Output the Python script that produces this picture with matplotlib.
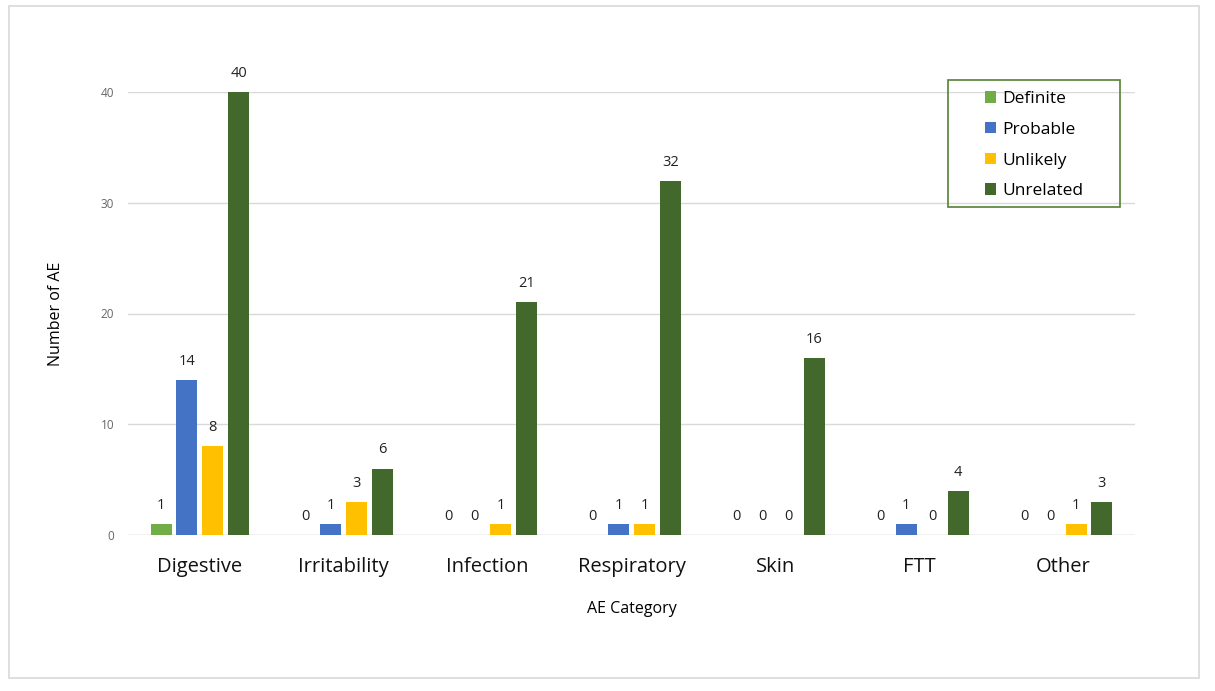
import matplotlib.pyplot as plt
import numpy as np
from matplotlib.patches import Rectangle

plt.rcParams['font.family'] = ['Open Sans', 'DejaVu Sans']

categories = ['Digestive', 'Irritability', 'Infection', 'Respiratory', 'Skin', 'FTT', 'Other']
series_names = ['Definite', 'Probable', 'Unlikely', 'Unrelated']
definite = [1, 0, 0, 0, 0, 0, 0]
probable = [14, 1, 0, 1, 0, 1, 0]
unlikely = [8, 3, 1, 1, 0, 0, 1]
unrelated = [40, 6, 21, 32, 16, 4, 3]
colors = ['#70AD47', '#4472C4', '#FFC000', '#43682B']

W, H = 1215, 691
fig = plt.figure(figsize=(W / 100, H / 100), dpi=100)
# outer chart border
fig.patches.append(Rectangle((9 / W, 1 - 678 / H), 1190 / W, 672 / H,
                             transform=fig.transFigure, fill=False,
                             edgecolor='#D9D9D9', linewidth=1.2))

ax = fig.add_axes([128 / W, 1 - 535 / H, 1007 / W, 443 / H])

x = np.arange(len(categories))
width = 0.146
step = 0.18
all_series = [definite, probable, unlikely, unrelated]
for i, (name, vals) in enumerate(zip(series_names, all_series)):
    pos = x + (i - 1.5) * step
    ax.bar(pos, vals, width, color=colors[i], label=name, zorder=3)
    for xp, v in zip(pos, vals):
        ax.text(xp, v + 1.0, str(v), ha='center', va='bottom', fontsize=10.5,
                color='#222222', clip_on=False)

ax.set_xlim(-0.5, len(categories) - 0.5)
ax.set_ylim(0, 40)
ax.set_yticks([0, 10, 20, 30, 40])
ax.yaxis.grid(True, color='#D9D9D9', linewidth=1, zorder=0)
ax.set_xticks(x)
ax.set_xticklabels(categories, fontsize=14.5, color='#111111')
ax.tick_params(axis='x', length=0, pad=16)
ax.tick_params(axis='y', length=0, labelsize=8.5, labelcolor='#666666', pad=10)
for s in ax.spines.values():
    s.set_visible(False)
ax.axhline(0, color='#D9D9D9', linewidth=1, zorder=1)

ax.set_ylabel('Number of AE', fontsize=11.5, labelpad=26)
ax.set_xlabel('AE Category', fontsize=11.5, labelpad=17)

# legend box
fig.patches.append(Rectangle((948 / W, 1 - 207 / H), 172 / W, 127 / H,
                             transform=fig.transFigure, fill=False,
                             edgecolor='#548235', linewidth=1.2, zorder=5))
leg = ax.legend(loc='upper left', bbox_to_anchor=(985 / W, 1 - 91 / H),
                bbox_transform=fig.transFigure, fontsize=12.5, frameon=False,
                handlelength=0.65, handleheight=0.65,
                handletextpad=0.35, labelspacing=0.85, borderpad=0,
                borderaxespad=0)

fig.savefig('out.png', dpi=100)
